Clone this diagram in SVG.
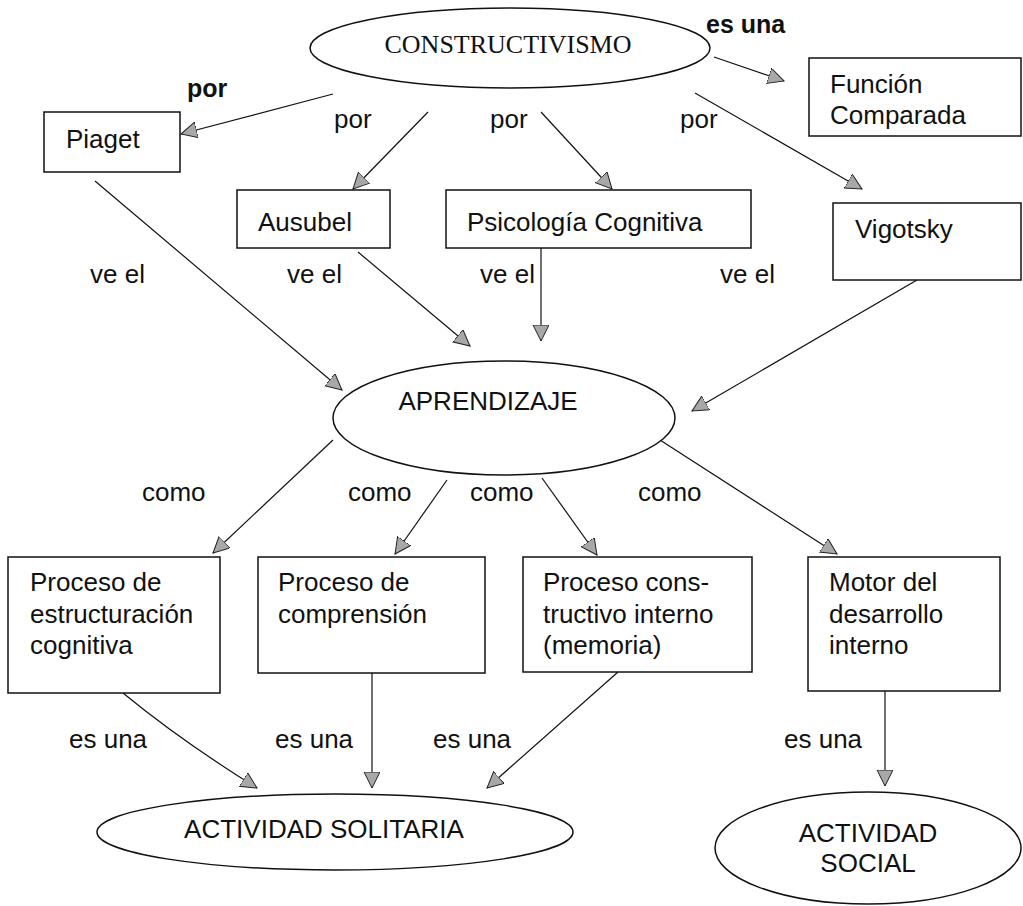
<svg xmlns="http://www.w3.org/2000/svg" width="1023" height="906" viewBox="0 0 1023 906">
<style>
.bg{fill:#fff}
.n{fill:#fff;stroke:#111;stroke-width:1.5}
.t{font-family:"Liberation Sans",Arial,sans-serif;font-size:26px;fill:#111}
.tb{font-family:"Liberation Sans",Arial,sans-serif;font-size:25px;font-weight:bold;fill:#111}
.ts{font-family:"Liberation Serif","Times New Roman",serif;font-size:26px;fill:#111}
.c{fill:none;stroke:#111;stroke-width:1.2;marker-end:url(#ah)}
</style>
<defs>
<marker id="ah" markerUnits="userSpaceOnUse" markerWidth="20" markerHeight="20" refX="16" refY="8" orient="auto">
<path d="M0,0 L16,8 L0,16 z" fill="#a8a8a8" stroke="#222" stroke-width="1"/>
</marker>
</defs>
<rect class="bg" x="0" y="0" width="1023" height="906"/>
<g id="connectors">
<path class="c" d="M333,94 L181,134"/>
<path class="c" d="M428,112 L353,189"/>
<path class="c" d="M541,112 L612,189"/>
<path class="c" d="M695,93 L862,189"/>
<path class="c" d="M714,57 L784,81"/>
<path class="c" d="M95,181 L342,390"/>
<path class="c" d="M358,252 L470,346"/>
<path class="c" d="M541,248 L541,341"/>
<path class="c" d="M917,280 L692,411"/>
<path class="c" d="M333,440 L213,553"/>
<path class="c" d="M447,480 L395,554"/>
<path class="c" d="M542,478 L597,555"/>
<path class="c" d="M660,440 L837,554"/>
<path class="c" d="M123,693 Q180,740 257,788"/>
<path class="c" d="M372,673 L372,788"/>
<path class="c" d="M618,672 L487,788"/>
<path class="c" d="M885,691 L885,786"/>
</g>
<g id="labels">
<text class="tb" x="187" y="97">por</text>
<text class="t" x="334" y="128">por</text>
<text class="t" x="490" y="128">por</text>
<text class="t" x="680" y="128">por</text>
<text class="tb" x="706" y="33">es una</text>
<text class="t" x="90" y="283">ve el</text>
<text class="t" x="287" y="283">ve el</text>
<text class="t" x="480" y="283">ve el</text>
<text class="t" x="720" y="283">ve el</text>
<text class="t" x="142" y="501">como</text>
<text class="t" x="348" y="501">como</text>
<text class="t" x="470" y="501">como</text>
<text class="t" x="638" y="501">como</text>
<text class="t" x="69" y="748">es una</text>
<text class="t" x="275" y="748">es una</text>
<text class="t" x="433" y="748">es una</text>
<text class="t" x="784" y="748">es una</text>
</g>
<g id="constructivismo">
<ellipse class="n" cx="510" cy="48" rx="200" ry="40"/>
<text class="ts" x="508" y="53" text-anchor="middle">CONSTRUCTIVISMO</text>
</g>
<g id="piaget">
<rect class="n" x="44" y="112" width="136" height="60"/>
<text class="t" x="66" y="148">Piaget</text>
</g>
<g id="ausubel">
<rect class="n" x="237" y="190" width="153" height="58"/>
<text class="t" x="258" y="231">Ausubel</text>
</g>
<g id="psicologia">
<rect class="n" x="446" y="190" width="305" height="58"/>
<text class="t" x="467" y="231">Psicología Cognitiva</text>
</g>
<g id="vigotsky">
<rect class="n" x="833" y="203" width="188" height="77"/>
<text class="t" x="855" y="238">Vigotsky</text>
</g>
<g id="funcion">
<rect class="n" x="809" y="58" width="212" height="78"/>
<text class="t" x="830" y="93">Función</text>
<text class="t" x="830" y="124">Comparada</text>
</g>
<g id="aprendizaje">
<ellipse class="n" cx="504" cy="418" rx="171" ry="57"/>
<text class="t" x="488" y="410" text-anchor="middle">APRENDIZAJE</text>
</g>
<g id="box1">
<rect class="n" x="8" y="557" width="212" height="136"/>
<text class="t" x="30" y="591">Proceso de</text>
<text class="t" x="30" y="623">estructuración</text>
<text class="t" x="30" y="654">cognitiva</text>
</g>
<g id="box2">
<rect class="n" x="258" y="557" width="227" height="116"/>
<text class="t" x="278" y="591">Proceso de</text>
<text class="t" x="278" y="623">comprensión</text>
</g>
<g id="box3">
<rect class="n" x="523" y="557" width="229" height="115"/>
<text class="t" x="543" y="591">Proceso cons-</text>
<text class="t" x="543" y="623">tructivo interno</text>
<text class="t" x="543" y="654">(memoria)</text>
</g>
<g id="box4">
<rect class="n" x="808" y="557" width="192" height="134"/>
<text class="t" x="829" y="591">Motor del</text>
<text class="t" x="829" y="623">desarrollo</text>
<text class="t" x="829" y="654">interno</text>
</g>
<g id="solitaria">
<ellipse class="n" cx="335" cy="832" rx="238" ry="38"/>
<text class="t" x="324" y="838" text-anchor="middle">ACTIVIDAD SOLITARIA</text>
</g>
<g id="social">
<ellipse class="n" cx="868" cy="848" rx="153" ry="56"/>
<text class="t" x="868" y="842" text-anchor="middle">ACTIVIDAD</text>
<text class="t" x="868" y="872" text-anchor="middle">SOCIAL</text>
</g>
</svg>
